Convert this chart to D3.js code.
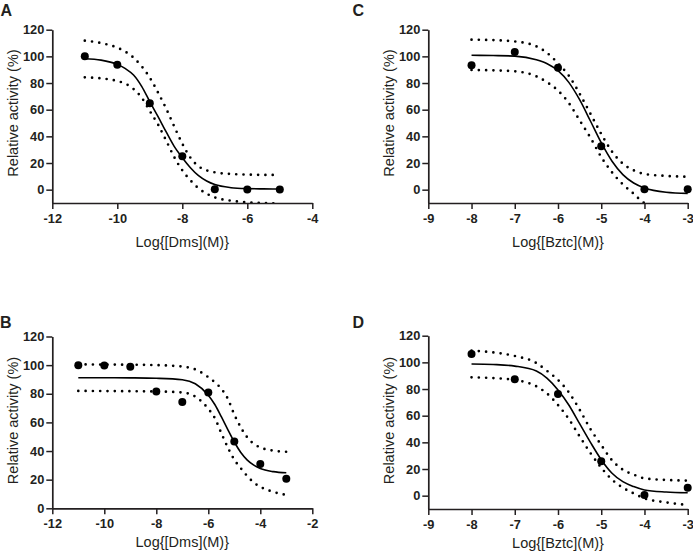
<!DOCTYPE html>
<html>
<head>
<meta charset="utf-8">
<script src="https://cdn.jsdelivr.net/npm/d3@7"></script>
<style>
  html, body { margin: 0; padding: 0; background: #ffffff; }
  svg { display: block; }
</style>
</head>
<body>
<svg id="chart" width="693" height="552"></svg>
<script>
// ---------------- DATA ----------------
// Panel A : Dms
const aDose = [-11, -10, -9, -8, -7, -6, -5];
const aActivity = [100, 93.8, 64.8, 25, 0.3, 0.2, 0.2];
const aCurveX = [-11, -10.5, -10, -9.75, -9.5, -9.25, -9, -8.75, -8.5, -8.25, -8, -7.75, -7.5, -7.25, -7, -6.5, -6, -5.5, -5];
const aFit   = [98.2, 97.2, 94, 90.8, 86, 77.5, 66, 55, 43.5, 32.5, 24, 16.5, 10.5, 6.5, 3.8, 1.5, 0.8, 0.6, 0.5];
const aUpper = [111.8, 110, 106.5, 103.5, 99, 92.5, 84, 73, 61, 47.5, 34.5, 24, 17.5, 14.5, 13, 11.8, 11.3, 11.1, 11];
const aLower = [84.3, 83.5, 81.5, 79.5, 75.5, 69, 59, 49, 37, 24.5, 14.5, 7, 1, -3, -5.8, -8.3, -9.5, -10, -10.3];

// Panel B : Dms
const bDose = [-11, -10, -9, -8, -7, -6, -5, -4, -3];
const bActivity = [100, 99.8, 98.8, 81.6, 74.2, 80.9, 46.7, 30.9, 20.7];
const bCurveX = [-11, -10, -9, -8, -7, -6.5, -6, -5.75, -5.5, -5.25, -5, -4.75, -4.5, -4.25, -4, -3.5, -3];
const bFit   = [91.2, 91.2, 91.1, 90.8, 89.8, 87, 79, 72.5, 64, 55, 46.3, 39, 33.7, 30.2, 27.8, 25.6, 24.8];
const bUpper = [100.5, 100.4, 100.3, 100, 99, 97, 91.6, 88, 83.5, 76.5, 65.5, 56.5, 49.5, 45, 42.5, 40.3, 39.5];
const bLower = [82, 81.9, 81.8, 81.6, 80.9, 78, 69.5, 63, 52.5, 42.5, 34, 28, 22.5, 18, 15, 11.5, 9.3];

// Panel C : Bztc
const cDose = [-8, -7, -6, -5, -4, -3];
const cActivity = [93.3, 103.3, 91.5, 32.5, 0.3, 0.3];
const cCurveX = [-8, -7.5, -7, -6.5, -6.25, -6, -5.75, -5.5, -5.25, -5, -4.75, -4.5, -4.25, -4, -3.5, -3];
const cFit   = [100.8, 100.6, 100.2, 97.5, 94.5, 89.3, 80.5, 67.5, 51.5, 35.2, 21.3, 11.3, 5, 1.3, -1.9, -2.8];
const cUpper = [112.5, 112.2, 111.2, 107.5, 102.5, 94.8, 85.5, 72, 57, 41.8, 28.5, 19.5, 14.5, 11.8, 10.3, 9.7];
const cLower = [89.8, 89.5, 88.8, 85, 80.5, 74.3, 65, 52, 39, 24.5, 13, 4, -3, -10, -13, -14.5];

// Panel D : Bztc
const dDose = [-8, -7, -6, -5, -4, -3];
const dActivity = [106.3, 87.3, 76.3, 25.8, 0.5, 6.0];
const dCurveX = [-8, -7.5, -7, -6.5, -6.25, -6, -5.75, -5.5, -5.25, -5, -4.75, -4.5, -4.25, -4, -3.5, -3];
const dFit   = [98.8, 98.4, 97.2, 93.5, 88, 79.3, 68, 54, 40, 27, 16.8, 10.5, 6.8, 4.3, 2.8, 2.2];
const dUpper = [108.8, 107.5, 104.8, 99.5, 93.5, 86.8, 77.5, 64.5, 50, 38, 26.5, 19.5, 15.8, 13, 11.8, 11.3];
const dLower = [88.8, 88.2, 86.8, 82, 76.5, 68, 57.5, 44.5, 32, 21, 12, 6, 1.7, -2, -5, -7];

// Tick values
const xTicksDmsA = [-12, -10, -8, -6, -4];
const xTicksDmsB = [-12, -10, -8, -6, -4, -2];
const xTicksBztc = [-9, -8, -7, -6, -5, -4, -3];
const yTicks = [0, 20, 40, 60, 80, 100, 120];

// Text
const panelLetters = ["A", "B", "C", "D"];
const yTitle = "Relative activity (%)";
const xTitleDms = "Log{[Dms](M)}";
const xTitleBztc = "Log{[Bztc](M)}";

// ---------------- LAYOUT ----------------
const panels = [
  { letter: panelLetters[0], lx: 0.5, ly: 15.5, left: 52.3, right: 312.3, top: 29.7, bottom: 203,
    xDom: [-12, -4], yDom: [-10, 120], xTicks: xTicksDmsA, xTitle: xTitleDms, titleOff: 43.5, yTitleY: 113,
    dose: aDose, act: aActivity, cx: aCurveX, fit: aFit, up: aUpper, lo: aLower },
  { letter: panelLetters[1], lx: 0, ly: 328, left: 52.3, right: 312.3, top: 336.5, bottom: 508.3,
    xDom: [-12, -2], yDom: [0, 120], xTicks: xTicksDmsB, xTitle: xTitleDms, titleOff: 38.5, yTitleY: 420.5,
    dose: bDose, act: bActivity, cx: bCurveX, fit: bFit, up: bUpper, lo: bLower },
  { letter: panelLetters[2], lx: 352.5, ly: 15.5, left: 428.3, right: 687.7, top: 29.7, bottom: 203,
    xDom: [-9, -3], yDom: [-10, 120], xTicks: xTicksBztc, xTitle: xTitleBztc, titleOff: 43.5, yTitleY: 113,
    dose: cDose, act: cActivity, cx: cCurveX, fit: cFit, up: cUpper, lo: cLower },
  { letter: panelLetters[3], lx: 352.5, ly: 328, left: 428.3, right: 687.7, top: 335.7, bottom: 509,
    xDom: [-9, -3], yDom: [-10, 120], xTicks: xTicksBztc, xTitle: xTitleBztc, titleOff: 38.5, yTitleY: 420.5,
    dose: dDose, act: dActivity, cx: dCurveX, fit: dFit, up: dUpper, lo: dLower }
];

const FONT = "'Liberation Sans', Arial, Helvetica, sans-serif";
const INK = "#231f20";
const svg = d3.select("#chart");

panels.forEach((p, i) => {
  const x = d3.scaleLinear().domain(p.xDom).range([p.left, p.right]);
  const y = d3.scaleLinear().domain(p.yDom).range([p.bottom, p.top]);

  const clipId = "clip" + i;
  svg.append("clipPath").attr("id", clipId)
    .append("rect")
    .attr("x", p.left).attr("y", p.top - 20)
    .attr("width", p.right - p.left + 10).attr("height", p.bottom - p.top + 20);

  const g = svg.append("g");

  // Panel letter
  svg.append("text")
    .attr("x", p.lx).attr("y", p.ly)
    .attr("font-family", FONT).attr("font-weight", "bold").attr("font-size", 16)
    .attr("fill", INK)
    .text(p.letter);

  // Curves
  const line = (vals) => d3.line()
    .x((d, k) => x(p.cx[k]))
    .y(d => y(d))
    .curve(d3.curveMonotoneX)(vals);

  const cg = g.append("g").attr("clip-path", `url(#${clipId})`);
  [p.up, p.lo].forEach(vals => {
    cg.append("path")
      .attr("d", line(vals))
      .attr("fill", "none")
      .attr("stroke", "#000")
      .attr("stroke-width", 2.7)
      .attr("stroke-linecap", "round")
      .attr("stroke-dasharray", "0 7.3");
  });
  cg.append("path")
    .attr("d", line(p.fit))
    .attr("fill", "none")
    .attr("stroke", "#000")
    .attr("stroke-width", 1.6);

  // Axes
  const yAxis = d3.axisLeft(y).tickValues(yTicks).tickSize(6).tickSizeOuter(0).tickPadding(2).tickFormat(d3.format("d"));
  const xAxis = d3.axisBottom(x).tickValues(p.xTicks).tickSize(6).tickSizeOuter(0).tickPadding(5).tickFormat(d3.format("d"));

  const ya = g.append("g").attr("transform", `translate(${p.left},0)`).call(yAxis);
  const xa = g.append("g").attr("transform", `translate(0,${p.bottom})`).call(xAxis);
  [ya, xa].forEach(a => {
    a.select(".domain").attr("stroke", INK).attr("stroke-width", 1.7);
    a.selectAll(".tick line").attr("stroke", INK).attr("stroke-width", 1.5);
    a.selectAll(".tick text")
      .attr("font-family", FONT).attr("font-weight", "bold").attr("font-size", 12.8)
      .attr("fill", INK);
  });
  // plain hyphen-minus like the original
  xa.selectAll(".tick text").text(d => String(d));

  // Points
  g.append("g").selectAll("circle")
    .data(p.dose)
    .join("circle")
    .attr("cx", d => x(d))
    .attr("cy", (d, k) => y(p.act[k]))
    .attr("r", 4)
    .attr("fill", "#000");

  // Axis titles
  svg.append("text")
    .attr("x", (p.left + p.right) / 2)
    .attr("y", p.bottom + p.titleOff)
    .attr("text-anchor", "middle")
    .attr("font-family", FONT).attr("font-size", 14.5)
    .attr("fill", INK)
    .text(p.xTitle);

  svg.append("text")
    .attr("transform", `translate(${p.left - 34.5},${p.yTitleY}) rotate(-90)`)
    .attr("text-anchor", "middle")
    .attr("font-family", FONT).attr("font-size", 14.5)
    .attr("fill", INK)
    .text(yTitle);
});
</script>
</body>
</html>
